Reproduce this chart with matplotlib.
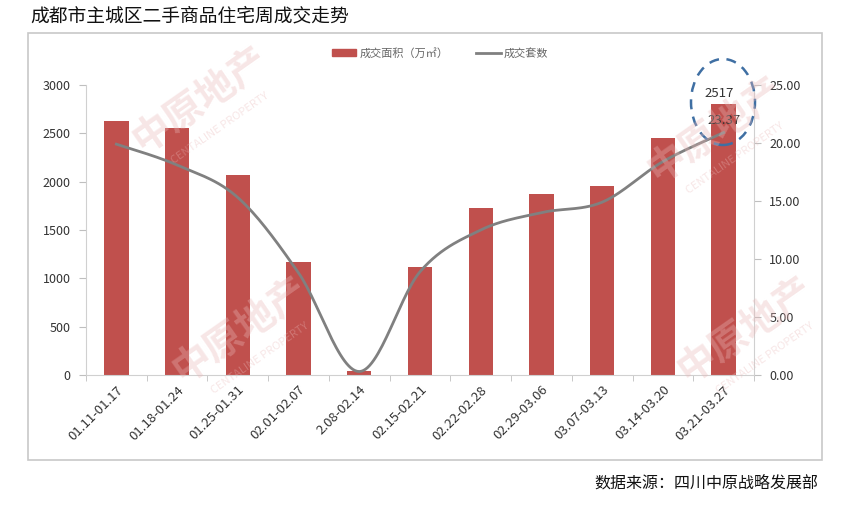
import numpy as np
import matplotlib
matplotlib.use("Agg")
import matplotlib.pyplot as plt
from matplotlib.patches import Ellipse, Rectangle
from matplotlib.lines import Line2D

plt.rcParams['font.family'] = ['Noto Sans CJK SC', 'DejaVu Sans']

categories = ["01.11-01.17", "01.18-01.24", "01.25-01.31", "02.01-02.07", "2.08-02.14",
              "02.15-02.21", "02.22-02.28", "02.29-03.06", "03.07-03.13", "03.14-03.20",
              "03.21-03.27"]
area = [2628, 2555, 2069, 1169, 45, 1117, 1728, 1872, 1955, 2452, 2803]
units = [19.9, 18.1, 15.3, 8.8, 0.3, 8.9, 12.5, 14.0, 14.9, 18.4, 20.9]
left_ticks = [0, 500, 1000, 1500, 2000, 2500, 3000]
right_ticks = [0, 5, 10, 15, 20, 25]
note_area = "2517"
note_units = "23.37"

def smooth(x, y, n=30):
    # Catmull-Rom style smoothing (as in spreadsheet smoothed lines)
    x = np.asarray(x, float); y = np.asarray(y, float)
    px = np.concatenate([[x[0]], x, [x[-1]]])
    py = np.concatenate([[y[0]], y, [y[-1]]])
    xs, ys = [], []
    for i in range(1, len(px) - 2):
        p0, p1, p2, p3 = (np.array([px[j], py[j]]) for j in (i - 1, i, i + 1, i + 2))
        c1 = p1 + (p2 - p0) / 6
        c2 = p2 - (p3 - p1) / 6
        t = np.linspace(0, 1, n)[:, None]
        b = (1 - t) ** 3 * p1 + 3 * (1 - t) ** 2 * t * c1 + 3 * (1 - t) * t ** 2 * c2 + t ** 3 * p2
        xs.append(b[:, 0]); ys.append(b[:, 1])
    return np.concatenate(xs), np.concatenate(ys)

fig = plt.figure(figsize=(8.42, 5.08), dpi=100)
W, H = 842, 508

# outer frame
fig.patches.append(Rectangle((28 / W, 1 - 460 / H), (822 - 28) / W, (460 - 33) / H,
                             transform=fig.transFigure, fill=False, edgecolor='#c8c8c8', lw=1.2))

# faint watermarks
wm = dict(color='#e9b8b8', alpha=0.35, fontweight='bold', rotation=35, ha='center', va='center')
for (x, y) in [(200, 100), (240, 330), (715, 130), (745, 330)]:
    fig.text(x / W, 1 - y / H, "中原地产", fontsize=28, **wm)
    fig.text((x + 20) / W, 1 - (y + 28) / H, "CENTALINE PROPERTY", fontsize=8,
             color='#e9b8b8', alpha=0.35, rotation=35, ha='center', va='center')

ax = fig.add_axes([86 / W, 1 - 375 / H, (754 - 86) / W, (375 - 85) / H])
ax.set_facecolor('none')
x = np.arange(len(categories))
ax.bar(x, area, width=0.4, color='#c0504d', zorder=2)
ax.set_xlim(-0.5, len(categories) - 0.5)
ax.set_ylim(0, 3000)
ax.set_yticks(left_ticks)
ax.set_yticklabels([str(v) for v in left_ticks])
ax.set_xticks(x)
ax.set_xticklabels(categories, rotation=45, ha='right', rotation_mode='anchor')
ax.set_xticks(np.arange(-0.5, len(categories), 1), minor=True)
ax.tick_params(axis='x', which='major', length=0, pad=6, labelsize=9.5, labelcolor='#333333')
ax.tick_params(axis='x', which='minor', length=4, color='#bfbfbf', direction='out')
ax.tick_params(axis='y', length=5, color='#bfbfbf', labelsize=9, labelcolor='#333333', pad=6)
for s in ['top', 'right']:
    ax.spines[s].set_visible(False)
for s in ['left', 'bottom']:
    ax.spines[s].set_color('#d0d0d0')

ax2 = ax.twinx()
sx, sy = smooth(x, units)
ax2.plot(sx, sy, color='#808080', lw=2, zorder=3)
ax2.set_ylim(0, 25)
ax2.set_yticks(right_ticks)
ax2.set_yticklabels([f"{v:.2f}" for v in right_ticks])
ax2.tick_params(axis='y', length=5, color='#bfbfbf', labelsize=9, labelcolor='#333333', pad=6)
for s in ['top', 'left', 'bottom']:
    ax2.spines[s].set_visible(False)
ax2.spines['right'].set_color('#d0d0d0')

# annotations on last point
last = len(categories) - 1
ax.text(last - 0.08, 2917, note_area, ha='center', va='center', fontsize=9.5, color='#333333')
ax2.text(last, 21.9, note_units, ha='center', va='center', fontsize=9.5, color='#333333')
fig.patches.append(Ellipse((723 / W, 1 - 102 / H), 64 / W, 86 / H, transform=fig.transFigure,
                           fill=False, edgecolor='#3f6fa3', lw=1.8, linestyle=(0, (4, 3))))

# legend
leg_handles = [Rectangle((0, 0), 1, 1, color='#c0504d'),
               Line2D([0], [0], color='#808080', lw=2)]
fig.legend(leg_handles, ["成交面积（万㎡）", "成交套数"], loc='center',
           bbox_to_anchor=(440 / W, 1 - 53 / H), ncol=2, frameon=False, fontsize=8,
           labelcolor='#666666', handlelength=2.2, handleheight=0.6, columnspacing=2.5,
           handletextpad=0.3)

fig.text(30 / W, 1 - 16 / H, "成都市主城区二手商品住宅周成交走势", fontsize=13.5,
         color='#111111', ha='left', va='center')
fig.text(818 / W, 1 - 483 / H, "数据来源：四川中原战略发展部", fontsize=11.5,
         color='#111111', ha='right', va='center')

fig.savefig("out.png", dpi=100)
